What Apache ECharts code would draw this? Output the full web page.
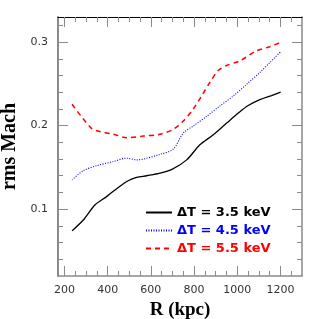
<!DOCTYPE html>
<html><head><meta charset="utf-8">
<script src="https://cdn.jsdelivr.net/npm/echarts@6/dist/echarts.min.js"></script>
<style>html,body{margin:0;padding:0;background:#fff}#c{width:319px;height:319px}</style>
</head><body><div id="c"></div>
<script>
const names = ['ΔT = 3.5 keV', 'ΔT = 4.5 keV', 'ΔT = 5.5 keV'];
const colors = ['#000000', '#0000ff', '#ff0000'];
const r35 = [235, 287, 341, 395, 449, 495, 534, 581, 642, 700, 766, 827, 889, 951, 1005, 1051, 1105, 1159, 1201];
const m35 = [0.074, 0.087, 0.105, 0.115, 0.126, 0.134, 0.138, 0.140, 0.143, 0.148, 0.159, 0.177, 0.189, 0.203, 0.215, 0.224, 0.231, 0.236, 0.240];
const r45 = [235, 287, 349, 426, 488, 534, 642, 704, 750, 796, 858, 920, 982, 1044, 1105, 1151, 1201];
const m45 = [0.135, 0.146, 0.152, 0.157, 0.161, 0.159, 0.1656, 0.172, 0.191, 0.1995, 0.211, 0.2236, 0.2355, 0.2496, 0.2636, 0.2756, 0.2884];
const r55 = [235, 326, 364, 426, 488, 565, 642, 704, 750, 796, 835, 874, 912, 951, 1013, 1090, 1151, 1201];
const m55 = [0.2256, 0.1964, 0.193, 0.1896, 0.1856, 0.1875, 0.1896, 0.1956, 0.2055, 0.2196, 0.2355, 0.252, 0.266, 0.272, 0.2776, 0.2896, 0.2944, 0.2996];
const xMajor = [200, 400, 600, 800, 1000, 1200];
const xMinor = [250, 300, 350, 450, 500, 550, 650, 700, 750, 850, 900, 950, 1050, 1100, 1150, 1250];
const yMajor = [0.1, 0.2, 0.3];
const yMinor = [0.04, 0.06, 0.08, 0.12, 0.14, 0.16, 0.18, 0.22, 0.24, 0.26, 0.28, 0.32];

const pairs = (xs, ys) => xs.map((x, i) => [x, ys[i]]);
const gray = '#8a8a8a';
const tickFont = {fontFamily: 'DejaVu Sans', fontSize: 11, color: '#333'};

function xAx(pos, vals, len, labels, line) {
  return {type: 'value', position: pos, min: 170, max: 1300,
    axisLine: {show: true, lineStyle: line || {color: 'rgba(0,0,0,0)', width: 0}},
    axisTick: {show: true, inside: true, length: len, customValues: vals, lineStyle: {color: gray, width: 1}},
    axisLabel: labels ? Object.assign({show: true, margin: 9, customValues: vals, formatter: v => String(v)}, tickFont) : {show: false},
    splitLine: {show: false}};
}
function yAx(pos, vals, len, labels, line) {
  return {type: 'value', position: pos, min: 0.02, max: 0.33,
    axisLine: {show: true, lineStyle: line || {color: 'rgba(0,0,0,0)', width: 0}},
    axisTick: {show: true, inside: true, length: len, customValues: vals, lineStyle: {color: gray, width: 1}},
    axisLabel: labels ? Object.assign({show: true, margin: 10, customValues: vals, formatter: v => String(Math.round(v * 10) / 10)}, tickFont) : {show: false},
    splitLine: {show: false}};
}

const xs = [
  Object.assign(xAx('bottom', xMajor, 10, true, {color: gray, width: 1.5}), {name: 'R (kpc)', nameLocation: 'middle', nameGap: 24,
    nameTextStyle: {fontFamily: 'Liberation Serif', fontWeight: 'bold', fontSize: 19, color: '#000'}}),
  xAx('bottom', xMinor, 5, false, null),
  xAx('top', xMajor, 10, false, {color: '#000', width: 1}),
  xAx('top', xMinor, 5, false, null)
];
const ys = [
  Object.assign(yAx('left', yMajor, 10, true, {color: gray, width: 2}), {name: 'rms Mach', nameLocation: 'middle', nameGap: 34,
    nameTextStyle: {fontFamily: 'Liberation Serif', fontWeight: 'bold', fontSize: 20, color: '#000'}}),
  yAx('left', yMinor, 5, false, null),
  yAx('right', yMajor, 10, false, {color: gray, width: 1.5}),
  yAx('right', yMinor, 5, false, null)
];

const chart = echarts.init(document.getElementById('c'), null, {renderer: 'canvas'});
chart.setOption({
  animation: false,
  backgroundColor: '#fff',
  grid: {left: 58, right: 17, top: 17, bottom: 43, containLabel: false, outerBoundsMode: 'none'},
  xAxis: xs,
  yAxis: ys,
  legend: {
    orient: 'vertical', left: 140, top: 201, itemWidth: 26, itemHeight: 10, itemGap: 5,
    itemStyle: {opacity: 0},
    textStyle: {fontFamily: 'DejaVu Sans', fontWeight: 'bold', fontSize: 13},
    data: names.map((n, i) => ({name: n, textStyle: {color: colors[i]}}))
  },
  series: [
    {name: names[0], type: 'line', data: pairs(r35, m35), smooth: 0.3, symbol: 'none',
      lineStyle: {color: colors[0], width: 1.3, type: 'solid'}, itemStyle: {color: colors[0]}},
    {name: names[1], type: 'line', data: pairs(r45, m45), smooth: 0.3, symbol: 'none',
      lineStyle: {color: colors[1], width: 1.1, type: [1, 1.5]}, itemStyle: {color: colors[1]}},
    {name: names[2], type: 'line', data: pairs(r55, m55), smooth: 0.3, symbol: 'none',
      lineStyle: {color: colors[2], width: 1.5, type: [5, 4]}, itemStyle: {color: colors[2]}}
  ]
});
</script></body></html>
